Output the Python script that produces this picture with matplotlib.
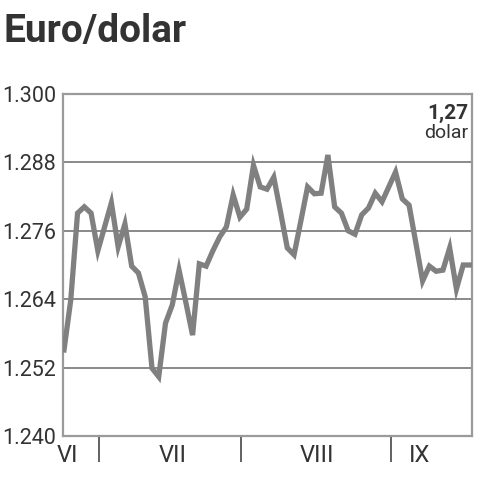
import matplotlib
matplotlib.use("Agg")
import matplotlib.pyplot as plt

# === ДАННЫЕ ===
# дневной курс евро/доллар, июнь - середина сентября
rates = [
    1.2551, 1.2639, 1.2791, 1.2802, 1.2791, 1.2725, 1.2767, 1.2809, 1.2732, 1.2772,
    1.2698, 1.2686, 1.2644, 1.2519, 1.2504, 1.2598, 1.2630, 1.2691, 1.2635, 1.2577,
    1.2702, 1.2698, 1.2725, 1.2749, 1.2767, 1.2823, 1.2784, 1.2798, 1.2875, 1.2837,
    1.2833, 1.2854, 1.2793, 1.2730, 1.2718, 1.2777, 1.2837, 1.2825, 1.2826, 1.2893,
    1.2802, 1.2791, 1.2760, 1.2754, 1.2788, 1.2800, 1.2826, 1.2811, 1.2837, 1.2863,
    1.2816, 1.2805, 1.2739, 1.2672, 1.2698, 1.2689, 1.2691, 1.2730, 1.2658, 1.2700,
    1.2700,
]
y_ticks = [1.240, 1.252, 1.264, 1.276, 1.288, 1.300]
month_names = ["VI", "VII", "VIII", "IX"]
month_label_pos = [0.45, 16.0, 37.4, 52.5]
month_bounds = [5.2, 26.2, 48.3]

LINE = "#808080"
TEXT = "#333333"
FONT = ["Roboto", "Liberation Sans", "DejaVu Sans"]

plt.rcParams["font.family"] = FONT

fig = plt.figure(figsize=(4.82, 4.80), dpi=100)
ax = fig.add_axes([63 / 482, 1 - 436 / 480, (472 - 63) / 482, (436 - 94) / 480])

ax.plot(range(len(rates)), rates, color=LINE, linewidth=3.8,
        solid_joinstyle="miter", zorder=3)

ax.set_xlim(-0.15, 60.3)
ax.set_ylim(1.240, 1.300)

# горизонтальная сетка
ax.set_yticks(y_ticks)
ax.set_yticklabels([f"{v:.3f}" for v in y_ticks], fontsize=15.5, color=TEXT)
ax.tick_params(axis="y", length=0, pad=5)
for v in y_ticks[1:]:
    ax.axhline(v, color="#6a6a6a", linewidth=1.1, zorder=1)

# месяцы: засечки на границах, подписи отдельно
ax.set_xticks(month_bounds)
ax.set_xticklabels([])
ax.tick_params(axis="x", which="major", length=19, width=1.3,
               color="#555555", direction="out")
ax.set_xticks(month_label_pos, minor=True)
ax.set_xticklabels(month_names, minor=True, fontsize=17, color=TEXT)
ax.tick_params(axis="x", which="minor", length=0, pad=6)

for side in ["left", "right", "bottom", "top"]:
    ax.spines[side].set_color("#9a9a9a")
    ax.spines[side].set_linewidth(1.6)

# заголовок и подпись
fig.text(4 / 482, 1 - 31 / 480, "Euro/dolar", fontsize=28, fontweight="bold",
         color=TEXT, ha="left", va="center")
ax.text(0.99, 0.943, "1,27", transform=ax.transAxes, fontsize=15,
        fontweight="bold", color=TEXT, ha="right", va="center")
ax.text(0.99, 0.886, "dolar", transform=ax.transAxes, fontsize=14,
        color=TEXT, ha="right", va="center")

plt.savefig("out.png", dpi=100)
plt.close()
